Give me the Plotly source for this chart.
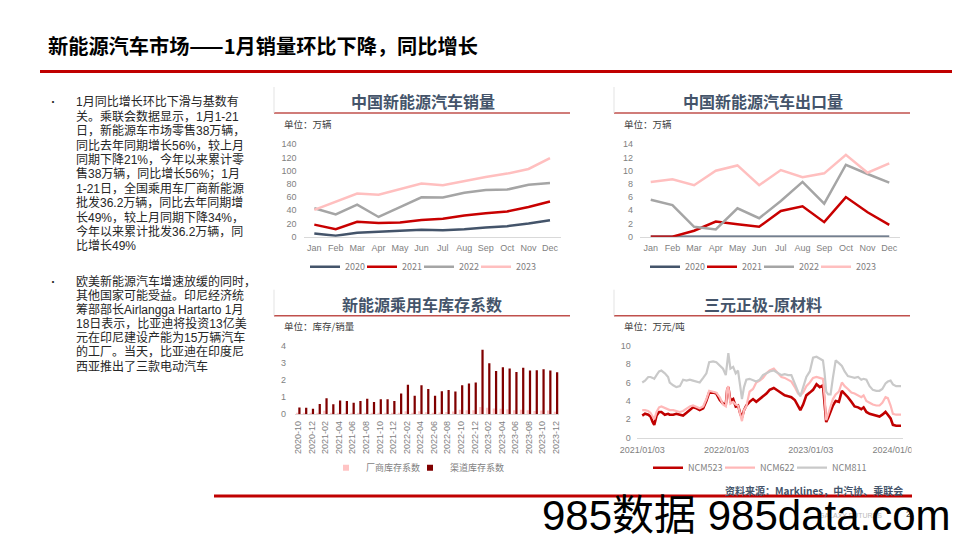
import plotly.graph_objects as go

# The page body adds an 8px margin, so the figure is drawn 8px in from the corner;
# positions below are given in slide pixels and mapped onto the figure.
OFF = 8
FW, FH = 952, 532
def fx(x): return (x - OFF) / FW
def fy(y): return 1 - (y - OFF) / FH

FONT = "Liberation Sans, Arial, Noto Sans CJK SC, sans-serif"
CJK = "Noto Sans CJK SC, Liberation Sans, sans-serif"

# ---------------- data ----------------
months = ["Jan", "Feb", "Mar", "Apr", "May", "Jun", "Jul", "Aug", "Sep", "Oct", "Nov", "Dec"]
years = ["2020", "2021", "2022", "2023"]

sales_2020 = [4.8, 1.5, 5.8, 7.4, 8.4, 10.5, 9.9, 11.2, 13.9, 16.0, 20.0, 25.0]
sales_2021 = [18.3, 11.4, 22.6, 20.8, 21.4, 25.4, 27.1, 32.1, 35.4, 38.2, 45.0, 53.3]
sales_2022 = [43.2, 33.8, 48.6, 29.9, 44.7, 59.6, 59.3, 66.6, 70.8, 71.4, 78.6, 81.4]
sales_2023 = [40.6, 52.5, 65.3, 63.6, 71.7, 80.6, 78.0, 84.6, 90.4, 95.6, 102.6, 119.1]

export_2020 = [0, 0, 0, 0, 0, 0, 0, 0, 0, 0, 0, 0]
export_2021 = [0.0, 0.0, 0.9, 2.3, 1.9, 1.5, 3.9, 4.6, 2.2, 6.0, 3.7, 1.8]
export_2022 = [5.6, 4.8, 1.5, 1.1, 4.3, 2.8, 5.4, 8.3, 5.0, 10.9, 9.5, 8.2]
export_2023 = [8.3, 8.7, 7.8, 10.0, 10.8, 7.8, 10.1, 9.0, 9.6, 12.4, 9.7, 11.1]

inv_months = ["2020-10", "2020-11", "2020-12",
              "2021-01", "2021-02", "2021-03", "2021-04", "2021-05", "2021-06",
              "2021-07", "2021-08", "2021-09", "2021-10", "2021-11", "2021-12",
              "2022-01", "2022-02", "2022-03", "2022-04", "2022-05", "2022-06",
              "2022-07", "2022-08", "2022-09", "2022-10", "2022-11", "2022-12",
              "2023-01", "2023-02", "2023-03", "2023-04", "2023-05", "2023-06",
              "2023-07", "2023-08", "2023-09", "2023-10", "2023-11", "2023-12"]
maker_coef = [0.04, 0.04, 0.04,
              0.05, 0.20, 0.05, 0.06, 0.05, 0.05, 0.08, 0.08, 0.06, 0.06, 0.05, 0.05,
              0.06, 0.18, 0.08, 0.18, 0.12, 0.08, 0.10, 0.14, 0.16, 0.26, 0.24, 0.24,
              0.42, 0.38, 0.34, 0.33, 0.29, 0.23, 0.27, 0.23, 0.19, 0.22, 0.22, 0.15]
channel_coef = [0.40, 0.38, 0.33,
                0.60, 0.93, 0.58, 0.80, 0.77, 0.67, 0.78, 0.90, 0.72, 0.88, 0.88, 0.77,
                1.22, 1.72, 1.08, 1.70, 1.48, 1.08, 1.35, 1.42, 1.33, 1.70, 1.80, 1.85,
                3.77, 2.97, 2.52, 2.75, 2.67, 2.47, 2.72, 2.55, 2.57, 2.62, 2.55, 2.45]

ncm_dates = ["2021-01-03", "2021-01-15", "2021-01-29", "2021-02-08", "2021-02-17", "2021-02-24", "2021-03-06", "2021-03-17", "2021-03-27", "2021-04-11",
             "2021-04-25", "2021-05-02", "2021-05-17", "2021-05-31", "2021-06-15", "2021-06-29", "2021-07-14", "2021-07-28", "2021-08-11", "2021-08-26",
             "2021-09-09", "2021-09-24", "2021-10-08", "2021-10-20", "2021-11-06", "2021-11-20", "2021-12-05", "2021-12-19", "2021-12-31", "2022-01-06",
             "2022-01-11", "2022-01-20", "2022-02-01", "2022-02-12", "2022-02-22", "2022-03-04", "2022-03-11", "2022-03-20", "2022-03-30", "2022-04-13",
             "2022-04-28", "2022-05-12", "2022-05-27", "2022-06-10", "2022-06-25", "2022-07-09", "2022-07-27", "2022-08-14", "2022-08-29", "2022-09-12",
             "2022-09-27", "2022-10-11", "2022-10-26", "2022-11-09", "2022-11-19", "2022-12-01", "2022-12-15", "2022-12-30", "2023-01-13", "2023-01-28",
             "2023-02-11", "2023-02-25", "2023-03-04", "2023-03-11", "2023-03-20", "2023-03-30", "2023-04-09", "2023-04-21", "2023-05-05", "2023-05-18",
             "2023-05-30", "2023-06-13", "2023-06-28", "2023-07-12", "2023-07-27", "2023-08-10", "2023-08-20", "2023-09-01", "2023-09-15", "2023-09-29",
             "2023-10-14", "2023-10-28", "2023-11-09", "2023-11-23", "2023-12-03", "2023-12-15", "2023-12-25", "2024-01-08", "2024-01-29"]
ncm811 = [6.0, 6.2, 6.6, 6.6, 6.5, 6.4, 6.8, 7.2, 7.3, 7.0,
          6.6, 6.0, 5.7, 5.5, 5.6, 6.3, 6.2, 6.3, 6.2, 6.1,
          6.0, 6.5, 7.0, 8.2, 8.3, 8.2, 7.8, 7.5, 6.8, 8.0,
          9.2, 7.5, 7.7, 7.0, 7.3, 5.5, 4.2, 5.5, 6.3, 6.4,
          6.2, 6.1, 6.3, 6.8, 7.0, 7.2, 7.3, 7.0, 6.8, 6.9,
          6.8, 6.8, 5.8, 5.0, 4.5, 5.4, 6.6, 7.2, 8.7, 8.8,
          8.6, 8.4, 7.0, 5.0, 4.7, 4.7, 6.5, 8.4, 8.1, 7.8,
          7.2, 6.7, 6.6, 6.5, 6.6, 6.3, 6.4, 6.3, 5.6, 5.2,
          5.1, 5.1, 5.3, 5.9, 6.1, 6.2, 5.8, 5.6, 5.6]
ncm523 = [2.4, 2.6, 2.5, 2.3, 1.7, 1.4, 2.4, 2.8, 2.8, 2.5,
          2.6, 2.5, 2.5, 2.6, 2.5, 2.4, 2.7, 3.0, 3.3, 3.2,
          3.0, 3.2, 4.0, 4.9, 4.9, 4.8, 4.1, 3.7, 3.6, 5.2,
          5.5, 4.0, 4.2, 3.4, 3.5, 2.6, 2.2, 3.0, 3.5, 3.9,
          4.2, 3.9, 4.2, 4.5, 4.8, 5.2, 5.4, 5.1, 4.8, 4.6,
          4.5, 4.4, 4.1, 3.4, 3.0, 3.6, 4.6, 4.9, 5.2, 5.8,
          5.5, 5.7, 4.0, 1.7, 2.2, 2.9, 3.5, 4.0, 3.9, 5.1,
          4.8, 4.4, 3.9, 3.4, 3.3, 3.1, 3.3, 2.8, 2.6, 2.5,
          2.4, 2.3, 2.5, 2.8, 2.5, 2.1, 1.4, 1.3, 1.3]
ncm622 = [3.0, 3.0, 2.9, 2.7, 2.3, 2.0, 2.8, 3.3, 3.4, 3.2,
          3.1, 3.0, 3.0, 2.9, 2.8, 2.9, 3.2, 3.4, 3.5, 3.3,
          3.2, 3.4, 4.2, 5.1, 5.0, 4.9, 4.4, 3.6, 3.4, 5.3,
          5.6, 3.7, 3.9, 3.6, 3.5, 2.4, 1.8, 3.0, 3.4, 5.0,
          5.3, 6.0, 6.2, 6.5, 7.0, 7.3, 7.5, 7.0, 6.6, 6.5,
          6.3, 6.1, 5.5, 4.8, 4.6, 4.9, 5.6, 6.0, 6.5, 6.6,
          6.5, 6.4, 4.5, 1.9, 2.6, 3.3, 4.2, 4.7, 5.0, 6.0,
          5.6, 5.3, 4.9, 4.8, 4.6, 4.4, 4.6, 4.0, 3.8, 3.6,
          3.5, 3.5, 3.8, 4.4, 4.3, 3.5, 2.6, 2.5, 2.5]
ncm_tickvals = ["2021-01-03", "2022-01-03", "2023-01-03", "2024-01-03"]
ncm_ticktext = ["2021/01/03", "2022/01/03", "2023/01/03", "2024/01/03"]

para1 = ["1月同比增长环比下滑与基数有",
         "关。乘联会数据显示，1月1-21",
         "日，新能源车市场零售38万辆，",
         "同比去年同期增长56%，较上月",
         "同期下降21%，今年以来累计零",
         "售38万辆，同比增长56%；1月",
         "1-21日，全国乘用车厂商新能源",
         "批发36.2万辆，同比去年同期增",
         "长49%，较上月同期下降34%，",
         "今年以来累计批发36.2万辆，同",
         "比增长49%"]
para2 = ["欧美新能源汽车增速放缓的同时，",
         "其他国家可能受益。印尼经济统",
         "筹部部长Airlangga Hartarto 1月",
         "18日表示，比亚迪将投资13亿美",
         "元在印尼建设产能为15万辆汽车",
         "的工厂。当天，比亚迪在印度尼",
         "西亚推出了三款电动汽车"]

# ---------------- figure ----------------
fig = go.Figure()
year_colors = ["#44546A", "#C80000", "#A5A5A5", "#FFBFBF"]

for i, (yr, vals, col) in enumerate(zip(years, [sales_2020, sales_2021, sales_2022, sales_2023], year_colors)):
    fig.add_trace(go.Scatter(x=months, y=vals, mode="lines", name=yr, xaxis="x", yaxis="y",
                             line=dict(color=col, width=2.5), legend="legend", cliponaxis=False,
                             legendwidth=(26 if i == 3 else None), hoverinfo="skip"))
for i, (yr, vals, col) in enumerate(zip(years, [export_2020, export_2021, export_2022, export_2023], year_colors)):
    fig.add_trace(go.Scatter(x=months, y=vals, mode="lines", name=yr, xaxis="x2", yaxis="y2",
                             line=dict(color=col, width=2.5), legend="legend2", cliponaxis=False,
                             legendwidth=(26 if i == 3 else None), hoverinfo="skip"))

fig.add_trace(go.Bar(x=inv_months, y=maker_coef, name="厂商库存系数", marker=dict(color="#FFC4C4", line=dict(width=0)),
                     xaxis="x3", yaxis="y3", showlegend=False, hoverinfo="skip"))
fig.add_trace(go.Bar(x=inv_months, y=channel_coef, name="渠道库存系数", marker=dict(color="#800000", line=dict(width=0)),
                     xaxis="x3", yaxis="y3", showlegend=False, hoverinfo="skip"))
# legend entries for the bar series (small square symbols)
fig.add_trace(go.Scatter(x=[None], y=[None], mode="markers", name="厂商库存系数", xaxis="x3", yaxis="y3",
                         marker=dict(symbol="square", size=6, color="#FFC4C4"), legend="legend3"))
fig.add_trace(go.Scatter(x=[None], y=[None], mode="markers", name="渠道库存系数", xaxis="x3", yaxis="y3",
                         marker=dict(symbol="square", size=6, color="#800000"), legend="legend3",
                         legendwidth=62))

for name, vals, col, wd, lw in [("NCM523", ncm523, "#C00000", 2.6, None),
                                ("NCM622", ncm622, "#FFB8B8", 2.2, None),
                                ("NCM811", ncm811, "#C9C9C9", 2.2, 42)]:
    fig.add_trace(go.Scatter(x=ncm_dates, y=vals, mode="lines", name=name, xaxis="x4", yaxis="y4",
                             line=dict(color=col, width=wd), legend="legend4", legendwidth=lw,
                             hoverinfo="skip"))

tickfont = dict(family=FONT, size=9, color="#7F7F7F")

def xax(d0, d1, **kw):
    base = dict(domain=[fx(d0), fx(d1)], showgrid=False, zeroline=False, showline=True,
                linecolor="#D9D9D9", linewidth=1, ticks="", tickfont=tickfont, layer="below traces",
                fixedrange=True, automargin=False)
    base.update(kw)
    return base

def yax(top, bottom, rng, dtick, standoff, **kw):
    base = dict(domain=[fy(bottom), fy(top)], range=rng, dtick=dtick, showgrid=False, zeroline=False,
                showline=False, ticks="", tickfont=tickfont, ticklabelstandoff=standoff, fixedrange=True,
                automargin=False)
    base.update(kw)
    return base

def mk_legend(x_item, y_center, entry):
    return dict(orientation="h", x=fx(x_item), y=fy(y_center), xanchor="left", yanchor="middle",
                entrywidth=entry, entrywidthmode="pixels",
                font=dict(family=CJK, size=9, color="#7F7F7F"),
                bgcolor="rgba(0,0,0,0)", borderwidth=0, traceorder="normal")

fig.update_layout(
    template="none",
    width=FW, height=FH, margin=dict(l=0, r=0, t=0, b=0, pad=0, autoexpand=False),
    paper_bgcolor="white", plot_bgcolor="white", font=dict(family=FONT),
    barmode="group", bargap=0.34, bargroupgap=0.0, showlegend=True,
    xaxis=xax(303.6, 560.7, type="category", range=[-0.5, 11.5], anchor="y", ticklabelstandoff=2),
    yaxis=yax(144.3, 236.7, [0, 140], 20, 6, anchor="x"),
    xaxis2=xax(639.9, 900.1, type="category", range=[-0.5, 11.5], anchor="y2", ticklabelstandoff=2),
    yaxis2=yax(144.3, 236.7, [0, 14], 2, 6, anchor="x2"),
    xaxis3=xax(294.9, 559.4, type="category", range=[-0.5, 38.5], anchor="y3", tickangle=-90,
               tickvals=inv_months[::2], ticktext=inv_months[::2], ticklabelstandoff=2),
    yaxis3=yax(345.7, 414.3, [0, 4], 1, 8, anchor="x3"),
    xaxis4=xax(636.7, 903.3, type="date", range=["2020-12-10", "2024-02-08"], anchor="y4",
               tickvals=ncm_tickvals, ticktext=ncm_ticktext, ticklabelstandoff=3),
    yaxis4=yax(345.7, 437.7, [0, 10], 2, 5, anchor="x4"),
    legend=mk_legend(305, 266.7, 12),
    legend2=mk_legend(645, 266.7, 12),
    legend3=mk_legend(326, 467.7, 39),
    legend4=mk_legend(648, 467.7, 27),
)

shapes = []
def hline(x0, x1, y, color, width):
    shapes.append(dict(type="line", xref="paper", yref="paper", x0=fx(x0), x1=fx(x1), y0=fy(y), y1=fy(y),
                       line=dict(color=color, width=width)))
def vline(x, y0, y1, color, width):
    shapes.append(dict(type="line", xref="paper", yref="paper", x0=fx(x), x1=fx(x), y0=fy(y0), y1=fy(y1),
                       line=dict(color=color, width=width)))

hline(40, 960, 71.5, "#C00000", 3)
hline(214, 912, 496, "#C00000", 3)
for (xl, xr, yl) in [(274, 570, 113), (614, 910, 113), (274, 570, 315.7), (614, 910, 315.7)]:
    hline(xl, xr, yl, "#C0504D", 1.5)
    vline(xl, yl - 26, yl, "#E3E3E3", 1)
# hide the overflowing part of the last date label, as in the original
shapes.append(dict(type="rect", xref="paper", yref="paper", x0=fx(911.5), x1=1, y0=fy(457), y1=fy(441),
                   fillcolor="white", line=dict(width=0), layer="above"))
fig.update_layout(shapes=shapes)

ann = []
def text(x, y, s, size, color, anchor="left", bold=False, family=CJK, opacity=1.0):
    ann.append(dict(x=fx(x), y=fy(y), xref="paper", yref="paper", showarrow=False, xanchor=anchor,
                    yanchor="middle", text=(f"<b>{s}</b>" if bold else s), opacity=opacity,
                    font=dict(family=family, size=size, color=color)))

text(46, 45, "新能源汽车市场——1月销量环比下降，同比增长", 20.2, "#000000", bold=True)

body = "Liberation Sans, Noto Sans CJK SC, sans-serif"
text(53, 101.7, "•", 10, "#262626", anchor="center")
for i, line in enumerate(para1):
    text(74, 101.7 + i * 14.45, line, 12, "#262626", family=body)
text(53, 281.7, "•", 10, "#262626", anchor="center")
for i, line in enumerate(para2):
    text(74, 281.7 + i * 14.05, line, 12, "#262626", family=body)

text(422.7, 101, "中国新能源汽车销量", 16, "#44546A", anchor="center", bold=True)
text(763, 101, "中国新能源汽车出口量", 16, "#44546A", anchor="center", bold=True)
text(422, 304, "新能源乘用车库存系数", 16, "#44546A", anchor="center", bold=True)
text(763, 304, "三元正极-原材料", 16, "#44546A", anchor="center", bold=True)

text(282, 124, "单位：万辆", 9.5, "#404040")
text(622, 124, "单位：万辆", 9.5, "#404040")
text(282, 326, "单位：库存/销量", 9.5, "#404040")
text(622, 326, "单位：万元/吨", 9.5, "#404040")

text(905, 490.7, "资料来源：Marklines，中汽协、乘联会", 10, "#44546A", anchor="right", bold=True)

text(850, 515, "GALAXY FUTURES", 7, "#BBBBBB", anchor="center", family=FONT)
text(908, 514, "2", 9, "#404040", anchor="center", family=FONT)
text(540, 515, "985数据 985data.com", 42, "#000000", family="Liberation Sans, Noto Sans CJK SC, sans-serif")

fig.update_layout(annotations=ann)
fig.write_html("out.html")
